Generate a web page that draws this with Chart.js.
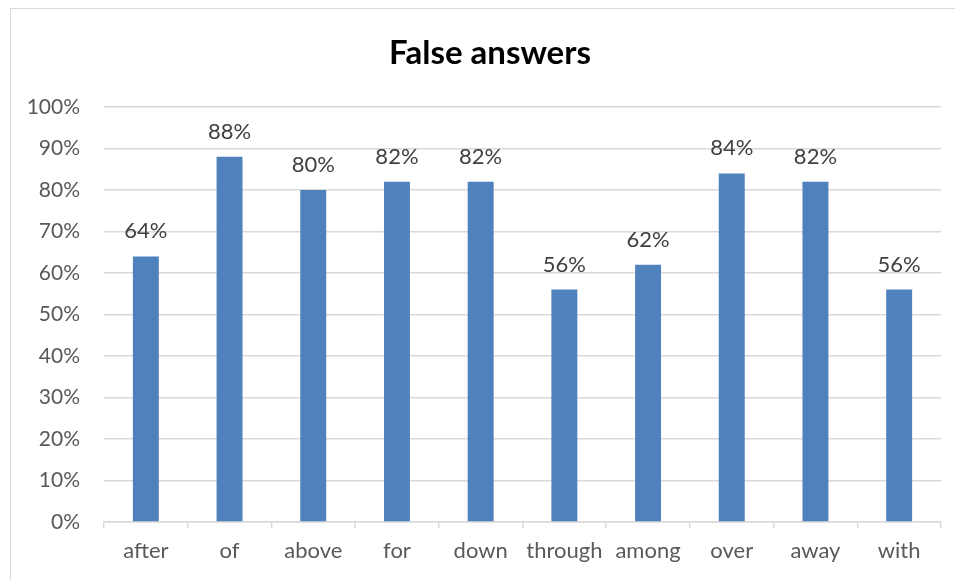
<!DOCTYPE html>
<html>
<head>
<meta charset="utf-8">
<script src="https://cdn.jsdelivr.net/npm/chart.js@4/dist/chart.umd.min.js"></script>
<style>
    html, body { margin: 0; padding: 0; background: #fff; overflow: hidden; }
    #frame {
        position: absolute; left: 10px; top: 8px; width: 980px; height: 600px;
        border: 1.5px solid #d9d9d9; box-sizing: border-box;
    }
    #wrap { position: absolute; left: 0; top: 0; width: 955px; height: 580px; }
</style>
</head>
<body>
<div id="frame"></div>
<div id="wrap"><canvas id="bar-chart"></canvas></div>
<script>
// Chart data
const categories = ['after', 'of', 'above', 'for', 'down', 'through', 'among', 'over', 'away', 'with'];
const falseAnswers = [64, 88, 80, 82, 82, 56, 62, 84, 82, 56];
const yTicks = [0, 10, 20, 30, 40, 50, 60, 70, 80, 90, 100];
const chartTitle = 'False answers';

const FONT = 'Lato, "Open Sans", sans-serif';

// Value labels above each bar + title centred over the whole frame
const valueLabels = {
    id: 'valueLabels',
    afterDatasetsDraw(chart) {
        const ctx = chart.ctx;
        const meta = chart.getDatasetMeta(0);
        ctx.save();
        ctx.font = '22px ' + FONT;
        ctx.fillStyle = '#404040';
        ctx.textAlign = 'center';
        ctx.textBaseline = 'middle';
        meta.data.forEach((bar, i) => {
            ctx.fillText(falseAnswers[i] + '%', bar.x, bar.y - 25);
        });

        ctx.font = 'bold 33px ' + FONT;
        ctx.fillStyle = '#000';
        ctx.fillText(chartTitle, 490, 53);
        ctx.restore();
    }
};

function initChart() {
    const ctx = document.getElementById('bar-chart');
    new Chart(ctx, {
        type: 'bar',
        data: {
            labels: categories,
            datasets: [{
                label: chartTitle,
                data: falseAnswers,
                backgroundColor: '#4f81bd',
                borderWidth: 0,
                categoryPercentage: 1.0,
                barPercentage: 0.31
            }]
        },
        options: {
            responsive: true,
            maintainAspectRatio: false,
            animation: false,
            layout: { padding: { top: 107, right: 14, bottom: 0, left: 0 } },
            plugins: {
                legend: { display: false },
                tooltip: { enabled: false },
                title: { display: false }
            },
            scales: {
                x: {
                    offset: true,
                    grid: {
                        display: true,
                        offset: true,
                        drawOnChartArea: false,
                        drawTicks: true,
                        tickLength: 6,
                        color: '#d9d9d9',
                        lineWidth: 1.5
                    },
                    border: { display: true, color: '#d9d9d9', width: 1.5 },
                    ticks: {
                        color: '#595959',
                        font: { family: FONT, size: 22 },
                        padding: 10,
                        maxRotation: 0,
                        autoSkip: false
                    },
                    afterFit(scale) { scale.height = 58; }
                },
                y: {
                    min: 0,
                    max: 100,
                    afterBuildTicks(scale) {
                        scale.ticks = yTicks.map(v => ({ value: v }));
                    },
                    grid: {
                        color: '#d9d9d9',
                        lineWidth: 1.5,
                        drawTicks: false
                    },
                    border: { display: false },
                    ticks: {
                        color: '#595959',
                        font: { family: FONT, size: 21 },
                        padding: 24,
                        callback: function(value) { return value + '%'; }
                    },
                    afterFit(scale) { scale.width = 104; }
                }
            }
        },
        plugins: [valueLabels]
    });
}

initChart();
</script>
</body>
</html>
